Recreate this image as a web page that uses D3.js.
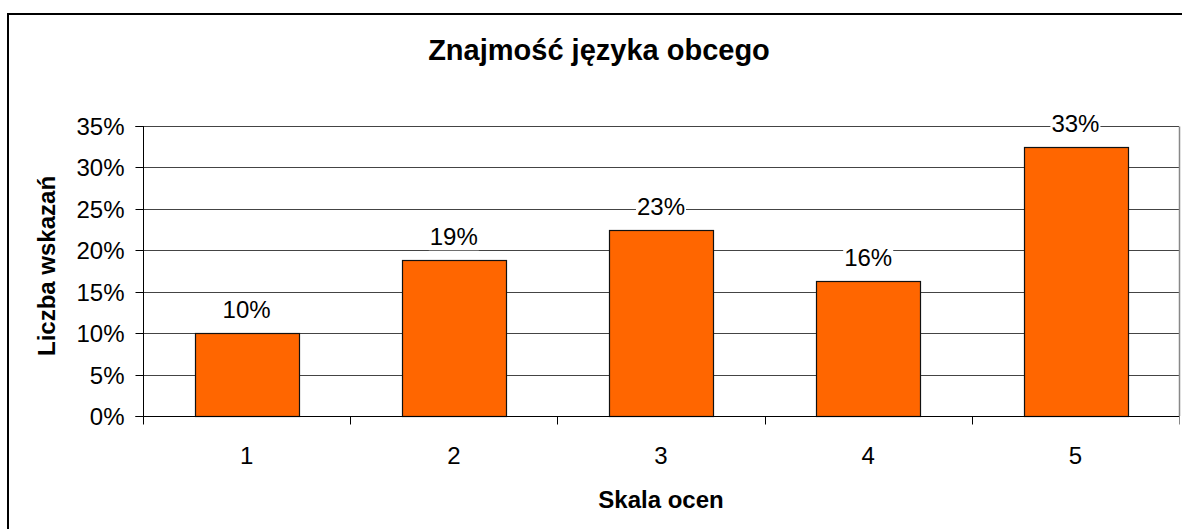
<!DOCTYPE html>
<html>
<head>
<meta charset="utf-8">
<script src="https://cdn.jsdelivr.net/npm/d3@7"></script>
<style>
  html, body { margin: 0; padding: 0; background: #fff; overflow: hidden; }
  text { font-family: "Liberation Sans", Arial, sans-serif; fill: #000; }
</style>
</head>
<body>
<svg id="chart" width="1182" height="529"></svg>
<script>
const categories = ["1", "2", "3", "4", "5"];
const values = [0.100, 0.188, 0.224, 0.163, 0.325];
const valueLabels = ["10%", "19%", "23%", "16%", "33%"];
const yTicks = [0, 0.05, 0.10, 0.15, 0.20, 0.25, 0.30, 0.35];
const yTickLabels = ["0%", "5%", "10%", "15%", "20%", "25%", "30%", "35%"];
const titleText = "Znajmość języka obcego";
const xTitle = "Skala ocen";
const yTitle = "Liczba wskazań";

const svg = d3.select("#chart");
const W = 1182, H = 529;
const plot = { left: 143, right: 1179, top: 126, bottom: 416 };

// outer border
svg.append("rect").attr("x", 8).attr("y", 14).attr("width", 1182).attr("height", 560)
  .attr("fill", "none").attr("stroke", "#000").attr("stroke-width", 2);

const x = d3.scaleBand().domain(categories).range([plot.left, plot.right]).paddingInner(0.5).paddingOuter(0.25);
const xb = d3.scaleBand().domain(categories).range([plot.left, plot.right]);
const y = d3.scaleLinear().domain([0, 0.35]).range([plot.bottom, plot.top]);

// gridlines
svg.append("g").selectAll("line").data(yTicks.slice(1)).join("line")
  .attr("x1", plot.left).attr("x2", plot.right)
  .attr("y1", d => Math.round(y(d)) + 0.5).attr("y2", d => Math.round(y(d)) + 0.5)
  .attr("stroke", "#444").attr("stroke-width", 1);

// plot right border
svg.append("line").attr("x1", plot.right + 0.5).attr("x2", plot.right + 0.5)
  .attr("y1", Math.round(plot.top) + 0.5).attr("y2", plot.bottom)
  .attr("stroke", "#888").attr("stroke-width", 1.5);

// y axis
const yAxis = d3.axisLeft(y).tickValues(yTicks).tickSize(8).tickPadding(11)
  .tickFormat((d, i) => yTickLabels[i]);
const gy = svg.append("g").attr("transform", `translate(${plot.left + 0.5},0)`).call(yAxis);
gy.selectAll(".tick").attr("transform", d => `translate(0,${Math.round(y(d)) + 0.5})`);
gy.select(".domain").attr("stroke", "#000").attr("d", `M-8,${plot.bottom + 0.5}H0V${Math.round(plot.top) + 0.5}H-8`);
gy.selectAll("line").attr("stroke", "#000");
gy.selectAll("text").style("font-size", "24px").attr("font-family", "Liberation Sans, Arial, sans-serif").attr("dy", "0.36em");

// bars
svg.append("g").selectAll("rect").data(values).join("rect")
  .attr("x", (d, i) => Math.round(x(categories[i])) + 0.5)
  .attr("y", d => Math.round(y(d)) + 0.5)
  .attr("width", Math.round(x.bandwidth()))
  .attr("height", d => Math.round(y(0)) - Math.round(y(d)))
  .attr("fill", "#FF6600").attr("stroke", "#111").attr("stroke-width", 1.2);

// x axis
const xAxis = d3.axisBottom(xb).tickSize(0).tickPadding(0).tickFormat(d => d);
const gx = svg.append("g").attr("transform", `translate(0,${plot.bottom + 0.5})`).call(xAxis);
gx.select(".domain").attr("stroke", "#000").attr("d", `M${plot.left + 0.5},0H${plot.right + 0.5}`);
gx.selectAll("text").style("font-size", "24px").attr("y", 47).attr("dy", 0);
// category boundary ticks
const bounds = categories.map(c => xb(c)).concat([plot.right]);
gx.append("g").selectAll("line").data(bounds).join("line")
  .attr("x1", d => Math.round(d) + 0.5).attr("x2", d => Math.round(d) + 0.5)
  .attr("y1", 0).attr("y2", 8).attr("stroke", (d, i) => i === bounds.length - 1 ? "#888" : "#000");

// value labels with white boxes
const lg = svg.append("g");
values.forEach((v, i) => {
  const cx = x(categories[i]) + x.bandwidth() / 2;
  const by = y(v) - 15;
  const t = lg.append("text").attr("x", cx).attr("y", by).attr("text-anchor", "middle")
    .style("font-size", "24px").text(valueLabels[i]);
  const bb = t.node().getBBox();
  lg.insert("rect", "text").attr("x", bb.x - 1).attr("y", bb.y).attr("width", bb.width + 2).attr("height", bb.height)
    .attr("fill", "#fff");
});

// titles
svg.append("text").attr("x", 599).attr("y", 60).attr("text-anchor", "middle")
  .style("font-size", "29px").style("font-weight", "bold").text(titleText);
svg.append("text").attr("x", (plot.left + plot.right) / 2).attr("y", 508).attr("text-anchor", "middle")
  .style("font-size", "24px").style("font-weight", "bold").text(xTitle);
svg.append("text").attr("transform", `translate(55,${(plot.top + plot.bottom) / 2 - 5}) rotate(-90)`)
  .attr("text-anchor", "middle")
  .style("font-size", "24px").style("font-weight", "bold").text(yTitle);
</script>
</body>
</html>
